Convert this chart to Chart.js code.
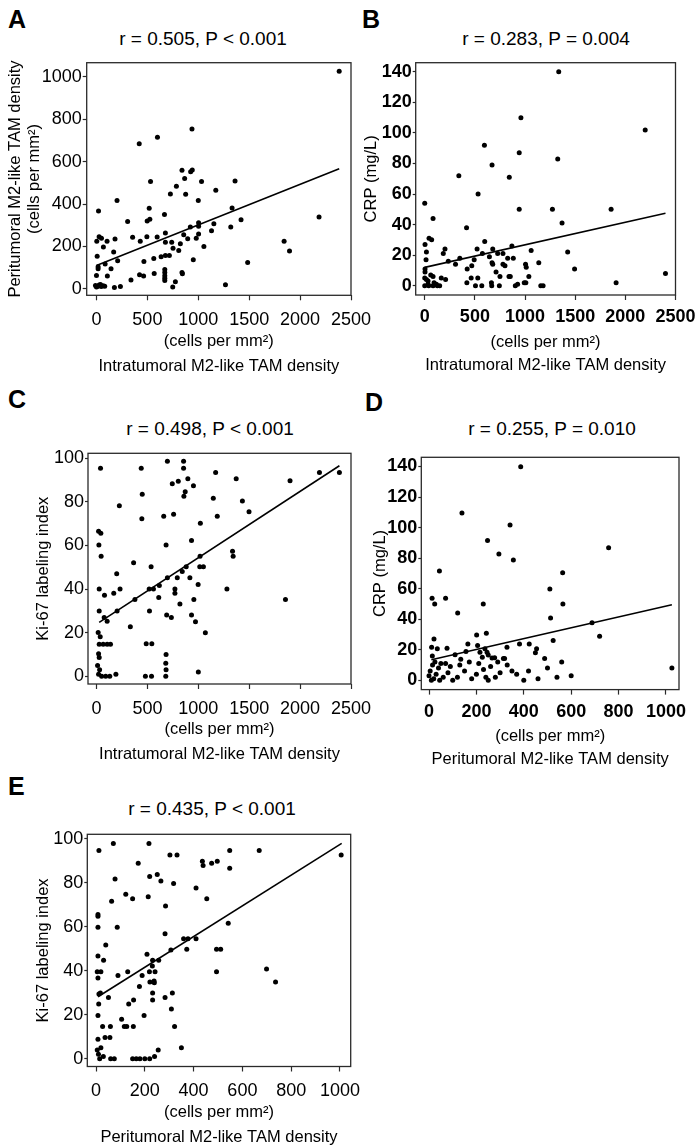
<!DOCTYPE html>
<html><head><meta charset="utf-8">
<script src="https://cdn.jsdelivr.net/npm/chart.js@4.4.1/dist/chart.umd.min.js"></script>
<style>
html,body{margin:0;padding:0;background:#fff;}
body{width:697px;height:1148px;position:relative;overflow:hidden;font-family:"Liberation Sans",Arial,sans-serif;color:#000;}
canvas{position:absolute;}
.lbl{position:absolute;font-weight:bold;font-size:25px;line-height:1;transform:translateY(-50%);}
.ttl{position:absolute;font-size:19px;white-space:nowrap;line-height:1;transform:translate(-50%,-50%);}
</style></head><body>
<div class="lbl" style="left:8px;top:19px">A</div>
<div class="lbl" style="left:362px;top:19px">B</div>
<div class="lbl" style="left:8px;top:399px">C</div>
<div class="lbl" style="left:365px;top:402px">D</div>
<div class="lbl" style="left:8px;top:786px">E</div>
<div class="ttl" id="tA" style="left:203px;top:38px"></div>
<div class="ttl" id="tB" style="left:546px;top:38px"></div>
<div class="ttl" id="tC" style="left:210px;top:428px"></div>
<div class="ttl" id="tD" style="left:552px;top:428px"></div>
<div class="ttl" id="tE" style="left:212px;top:808px"></div>
<canvas id="cA"></canvas><canvas id="cB"></canvas><canvas id="cC"></canvas><canvas id="cD"></canvas><canvas id="cE"></canvas>
<script>
// ---------- DATA ----------
const titles = {A:"r = 0.505, P < 0.001", B:"r = 0.283, P = 0.004", C:"r = 0.498, P < 0.001", D:"r = 0.255, P = 0.010", E:"r = 0.435, P < 0.001"};
const xTicksIntra = [0,500,1000,1500,2000,2500];
const xTicksPeri = [0,200,400,600,800,1000];
const yTicksPeri = [0,200,400,600,800,1000];
const yTicksCRP = [0,20,40,60,80,100,120,140];
const yTicksKi67 = [0,20,40,60,80,100];
const labelIntra = ["(cells per mm\u00B2)","Intratumoral M2-like TAM density"];
const labelPeri = ["(cells per mm\u00B2)","Peritumoral M2-like TAM density"];
const labelPeriY = ["Peritumoral M2-like TAM density","(cells per mm\u00B2)"];
const labelCRP = "CRP (mg/L)";
const labelKi67 = "Ki-67 labeling index";

// A: intratumoral (x) vs peritumoral (y)
const pointsA = [[2384,1027],[938,754],[599,715],[420,685],[840,559],[925,553],[941,561],[866,521],[531,506],[1032,506],[1361,509],[785,484],[726,447],[876,446],[1172,465],[1000,417],[202,417],[20,367],[518,380],[668,351],[498,320],[524,328],[306,317],[1332,381],[1420,326],[2186,339],[1003,312],[1003,295],[1153,307],[922,291],[1319,291],[1130,274],[677,263],[1003,258],[857,255],[26,246],[49,239],[355,243],[495,246],[596,244],[896,236],[980,238],[3,224],[104,224],[182,235],[430,224],[677,220],[739,220],[824,213],[68,197],[752,191],[808,180],[1055,200],[1843,224],[1896,178],[169,173],[7,154],[635,151],[677,157],[716,157],[563,143],[208,132],[466,129],[951,137],[1485,124],[16,104],[16,94],[85,117],[143,94],[671,91],[0,63],[107,60],[423,66],[463,60],[567,72],[671,77],[671,61],[671,50],[671,39],[844,71],[840,77],[339,41],[775,33],[749,8],[1267,19],[176,6],[235,11],[-10,15],[7,10],[26,18],[46,10],[65,14],[81,12],[0,8],[39,20]];
const fitA = [[0,110],[2384,567]];

// B: intratumoral (x) vs CRP (y)
const pointsB = [[1336,140],[959,110],[2198,102],[595,92],[942,87],[1326,83],[671,79],[843,71],[340,72],[532,60],[0,54],[942,50],[1273,50],[1858,50],[83,44],[1369,41],[417,38],[43,31],[69,30],[598,29],[3,27],[869,26],[17,22],[202,24],[185,21],[522,24],[678,24],[575,21],[727,21],[780,21],[1061,23],[1425,22],[13,17],[235,16],[307,14],[350,18],[493,17],[645,19],[827,18],[883,18],[671,15],[678,14],[780,14],[800,13],[423,11],[469,13],[1005,14],[1012,12],[1137,15],[1494,11],[3,11],[3,9],[711,9],[750,6],[840,6],[853,6],[1038,6],[2400,8],[0,5],[17,4],[33,3],[60,7],[83,6],[165,5],[208,4],[420,2],[463,5],[529,5],[506,0],[569,0],[665,2],[668,0],[744,0],[903,0],[926,1],[992,2],[1008,2],[1157,0],[1180,0],[1908,2],[0,0],[40,0],[83,0],[126,0],[149,0],[33,1],[93,2],[116,1]];
const fitB = [[0,12],[2400,47.4]];

// C: intratumoral (x) vs Ki-67 (y)
const pointsC = [[696,98.6],[855,98.6],[39,95.4],[439,95.4],[855,95.4],[1170,93.4],[2386,93.4],[2190,93.4],[1372,90.5],[897,90.5],[803,89.4],[744,88.3],[952,87.3],[1901,89.6],[449,83.4],[871,84.6],[858,82.5],[1147,81.6],[1433,80.3],[224,78.2],[1498,75.4],[660,73.4],[757,74.3],[1186,73.4],[445,72.2],[1020,70.2],[20,66.5],[42,65.6],[23,60.2],[683,60.2],[933,62.2],[45,55],[1336,57.3],[1342,55],[1017,55],[364,52],[536,50.2],[1014,50.2],[1050,50.2],[198,47],[881,50.2],[842,48.1],[793,45.2],[917,45.2],[696,45.2],[998,42.1],[617,41.6],[26,40],[78,37.2],[169,38.1],[231,40],[517,40],[559,40],[770,40],[770,38.1],[1281,40],[611,36.1],[377,35.2],[956,35.2],[1856,35.2],[819,33.2],[26,30],[202,30],[520,30],[689,28.1],[735,27],[75,27],[104,25.2],[933,28.1],[972,25],[332,22.7],[1069,20],[16,20.1],[36,18.1],[26,14.7],[65,14.7],[104,14.7],[137,14.7],[488,14.9],[543,14.9],[20,10.4],[26,8.6],[683,10],[10,5],[30,3],[20,1],[50,0],[90,0],[190,1],[480,0],[540,0],[680,6],[683,3],[680,0],[1000,2],[130,0]];
const fitC = [[26,24.7],[2386,96.5]];

// D: peritumoral (x) vs CRP (y)
const pointsD = [[387,139.8],[139,109.5],[342,101.6],[247,91.6],[295,82.7],[356,78.7],[758,86.8],[44,71.5],[564,70.4],[510,59.8],[13,53.7],[24,49.9],[70,53.7],[229,49.9],[565,49.9],[121,44.1],[513,40.8],[688,37.7],[720,28.8],[21,27],[201,29.7],[242,30.8],[524,26],[11,21.6],[35,20.7],[76,20.9],[164,23.8],[205,22.7],[236,20.7],[329,21.6],[382,23.8],[423,23.8],[454,20.7],[449,18.1],[14,15.9],[110,16.8],[156,18.8],[215,18.3],[245,18.3],[250,16.6],[225,15],[266,14.6],[277,14.8],[314,14.2],[319,14.2],[488,14.2],[134,13.7],[1025,8],[540,2],[460,1],[400,0],[350,6],[300,5],[280,2],[250,0],[200,4],[180,1],[150,6],[120,2],[100,0],[80,5],[60,2],[50,11],[40,8],[30,4],[20,1],[10,0],[5,6],[15,10],[25,12],[70,11],[90,9],[130,10],[170,12],[210,11],[230,7],[260,9],[290,12],[330,10],[370,4],[420,6],[500,8],[560,12],[600,3],[240,2],[45,0],[0,3]];
const fitD = [[10,13.5],[1025,49.5]];

// E: peritumoral (x) vs Ki-67 (y)
const pointsE = [[71,97.9],[217,97.9],[12,94.7],[303,92.7],[332,92.7],[548,94.7],[669,94.7],[1005,92.7],[436,89.8],[439,87.9],[474,88.9],[497,89.8],[548,86.6],[173,88.9],[78,81.8],[220,82.9],[251,83.8],[266,80.9],[318,79.7],[410,77.7],[122,74.8],[150,72.8],[214,73.7],[64,71.6],[454,72.8],[285,69.5],[8,65.6],[8,64.8],[8,59.8],[87,59.8],[542,61.6],[283,56.8],[359,54.6],[377,54.6],[410,54.6],[40,51.7],[372,49.8],[307,49.5],[494,49.8],[511,49.8],[8,46.7],[209,47.5],[31,44.8],[232,44.8],[257,44.8],[231,42.2],[5,39.6],[20,39.6],[90,37.8],[130,39.6],[189,37.8],[219,39.6],[242,39.6],[494,39.6],[8,36.7],[699,40.8],[736,34.9],[221,34.9],[238,35.4],[239,34.6],[178,32.8],[18,29.9],[12,29.4],[51,27.8],[232,29.9],[313,29.9],[283,27.8],[154,26.7],[232,26.7],[134,24.9],[11,24.9],[309,22.6],[8,19.7],[197,19.7],[105,17.9],[27,14.7],[59,14.7],[116,14.7],[126,14.7],[153,14.7],[322,14.7],[37,9.7],[57,9.7],[8,8.8],[5,4],[10,2],[15,0],[30,1],[60,0],[75,0],[150,0],[165,0],[180,0],[200,0],[220,0],[240,1],[255,4],[350,5],[20,5]];
const fitE = [[8,28.2],[1007,98]];

// ---------- LAYOUT / STYLE ----------
const FONT = "'Liberation Sans', Arial, sans-serif";
const panels = [
  {k:'A', pts:pointsA, fit:fitA, cv:{left:0,top:50,w:380,h:340}, box:{l:86.7,t:62.7,r:351,b:295.3},
   xr:[-96,2500], yr:[-31,1067.5], xt:xTicksIntra, yt:yTicksPeri, xTitle:labelIntra, yTitle:labelPeriY,
   xLH:25, xPB:11.5, xPad:10.7, yPT:5.5, yTL:4, yPad:1, bold:false},
  {k:'B', pts:pointsB, fit:fitB, cv:{left:355,top:50,w:342,h:340}, box:{l:415.7,t:62.7,r:675.5,b:295},
   xr:[-90,2500], yr:[-6.1,146], xt:xTicksIntra, yt:yTicksCRP, xTitle:labelIntra, yTitle:labelCRP,
   xLH:23, xPB:13.5, xPad:8.5, yPT:7.2, yTL:3, yPad:1, bold:true},
  {k:'C', pts:pointsC, fit:fitC, cv:{left:0,top:440,w:380,h:340}, box:{l:88,t:453.3,r:351,b:684},
   xr:[-84,2500], yr:[-3.5,102.2], xt:xTicksIntra, yt:yTicksKi67, xTitle:labelIntra, yTitle:labelKi67,
   xLH:25, xPB:12.8, xPad:10.7, yPT:33.5, yTL:3, yPad:1, bold:false},
  {k:'D', pts:pointsD, fit:fitD, cv:{left:355,top:440,w:342,h:340}, box:{l:421.3,t:457.3,r:679,b:689.6},
   xr:[-32.5,1055], yr:[-6.1,146], xt:xTicksPeri, yt:yTicksCRP, xTitle:labelPeri, yTitle:labelCRP,
   xLH:23, xPB:8.9, xPad:8.5, yPT:15.5, yTL:3, yPad:1, bold:true},
  {k:'E', pts:pointsE, fit:fitE, cv:{left:0,top:820,w:380,h:340}, box:{l:87.3,t:834.3,r:350.7,b:1066.5},
   xr:[-35.7,1044], yr:[-3.55,102.1], xt:xTicksPeri, yt:yTicksKi67, xTitle:labelPeri, yTitle:labelKi67,
   xLH:25, xPB:10.3, xPad:10.7, yPT:33.5, yTL:3, yPad:1, bold:false}
];

const framePlugin = {
  id:'frame',
  afterDatasetsDraw(chart){
    const {ctx, chartArea:a} = chart;
    ctx.save();
    ctx.strokeStyle = '#2a2a2a';
    ctx.lineWidth = 1.3;
    ctx.strokeRect(a.left, a.top, a.right - a.left, a.bottom - a.top);
    ctx.restore();
  }
};

panels.forEach(p => {
  document.getElementById('t' + p.k).textContent = titles[p.k];
  const c = document.getElementById('c' + p.k);
  c.width = p.cv.w; c.height = p.cv.h;
  c.style.left = p.cv.left + 'px'; c.style.top = p.cv.top + 'px';
  c.style.width = p.cv.w + 'px'; c.style.height = p.cv.h + 'px';
  const cvRight = p.cv.left + p.cv.w, cvBottom = p.cv.top + p.cv.h;
  const tickFont = {family: FONT, size: 18, weight: p.bold ? 'bold' : 'normal', lineHeight: 1};
  new Chart(c, {
    type: 'scatter',
    data: {
      datasets: [
        {data: p.pts.map(d => ({x: d[0], y: d[1]})), pointRadius: 2.5, pointHoverRadius: 2.5,
         backgroundColor: '#000', borderWidth: 0, showLine: false},
        {data: p.fit.map(d => ({x: d[0], y: d[1]})), showLine: true, pointRadius: 0,
         borderColor: '#000', borderWidth: 1.6, fill: false}
      ]
    },
    options: {
      responsive: false, animation: false, devicePixelRatio: 1,
      layout: {padding: {left: 0, top: p.box.t - p.cv.top, right: cvRight - p.box.r, bottom: 0}},
      plugins: {legend: {display: false}, tooltip: {enabled: false}},
      scales: {
        x: {
          type: 'linear', min: p.xr[0], max: p.xr[1],
          afterBuildTicks: a => { a.ticks = p.xt.map(v => ({value: v})); },
          afterFit: s => { s.height = cvBottom - p.box.b; s.paddingLeft = 0; s.paddingRight = 0; },
          ticks: {autoSkip: false, maxRotation: 0, color: '#000', font: tickFont, padding: p.xPad,
                  callback: v => String(v)},
          grid: {drawOnChartArea: false, drawTicks: true, tickLength: 5, tickColor: '#2a2a2a', tickWidth: 1.2},
          border: {display: false},
          title: {display: true, text: p.xTitle, color: '#000',
                  font: {family: FONT, size: 16.5, lineHeight: p.xLH + 'px'},
                  padding: {top: 0, bottom: p.xPB}}
        },
        y: {
          type: 'linear', min: p.yr[0], max: p.yr[1],
          afterBuildTicks: a => { a.ticks = p.yt.map(v => ({value: v})); },
          afterFit: s => { s.width = p.box.l - p.cv.left; s.paddingTop = 0; s.paddingBottom = 0; },
          ticks: {autoSkip: false, color: '#000', font: tickFont, padding: p.yPad, callback: v => String(v)},
          grid: {drawOnChartArea: false, drawTicks: true, tickLength: p.yTL, tickColor: '#2a2a2a', tickWidth: 1.2},
          border: {display: false},
          title: {display: true, text: p.yTitle, color: '#000',
                  font: {family: FONT, size: 16.5, lineHeight: '19px'},
                  padding: {top: p.yPT, bottom: 0}}
        }
      }
    },
    plugins: [framePlugin]
  });
});
</script>
</body></html>
